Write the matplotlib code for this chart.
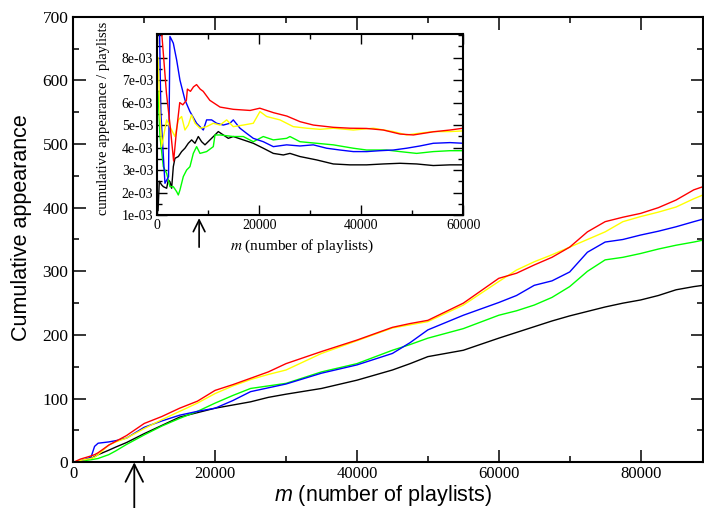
import matplotlib
matplotlib.use('Agg')
import matplotlib.pyplot as plt
from matplotlib.ticker import MultipleLocator, FuncFormatter, FixedLocator

# ---------------- data: main panel (cumulative appearance) ----------------
m_main = [0, 1000, 2500, 3000, 3500, 5000, 6000, 7500, 10000, 12500, 15000, 17500,
          20000, 22500, 25000, 27500, 30000, 35000, 40000, 45000, 47500, 50000,
          55000, 60000, 62500, 65000, 67500, 70000, 72500, 75000, 77500, 80000,
          82500, 85000, 87500, 88800]
red_main = [0, 5, 10, 12, 15, 27, 33, 42, 61, 72, 85, 96, 113, 122, 132, 142, 155,
            174, 192, 212, 218, 223, 250, 289, 297, 310, 322, 338, 362, 378, 385,
            391, 400, 412, 428, 433]
yellow_main = [0, 3, 6, 8, 12, 27, 32, 38, 53, 67, 80, 93, 108, 120, 130, 138, 145,
               171, 191, 211, 216, 221, 247, 284, 302, 315, 326, 338, 350, 362, 378,
               386, 393, 401, 414, 420]
blue_main = [0, 2, 8, 25, 30, 32, 34, 38, 55, 65, 74, 80, 85, 97, 111, 117, 123,
             140, 153, 171, 188, 208, 231, 251, 262, 278, 285, 299, 330, 346, 350,
             357, 363, 370, 378, 382]
green_main = [0, 2, 4, 5, 6, 12, 18, 28, 43, 57, 69, 80, 93, 105, 116, 120, 124,
              142, 155, 176, 185, 195, 210, 231, 238, 247, 259, 276, 300, 318, 322,
              328, 335, 341, 346, 349]
black_main = [0, 2, 6, 9, 12, 19, 24, 31, 45, 58, 71, 78, 85, 90, 95, 102, 107,
              116, 129, 145, 155, 166, 176, 195, 204, 213, 222, 230, 237, 244, 250,
              255, 262, 271, 276, 278]

# ---------------- data: inset (cumulative appearance / playlists, in 1e-3) ----------------
red_in_m = [150, 900, 1800, 2500, 3200, 3700, 4400, 5000, 5700, 5900, 6500, 7100, 7700,
            8400, 9000, 10300, 12300, 14900, 18200, 20100, 22800, 25400, 28000, 30600,
            34500, 37800, 41000, 44300, 47600, 50200, 54100, 57400, 60000]
red_in_v = [14, 9.0, 6.4, 5.0, 3.4, 4.6, 6.0, 5.9, 6.1, 6.6, 6.5, 6.7, 6.8, 6.6, 6.5,
            6.1, 5.8, 5.7, 5.65, 5.75, 5.55, 5.4, 5.15, 5.0, 4.9, 4.86, 4.85, 4.78,
            4.6, 4.56, 4.7, 4.78, 4.86]
yellow_in_m = [150, 520, 850, 1830, 2810, 3460, 4120, 4770, 5420, 6080, 6730, 7390, 8370,
               9670, 10980, 12290, 13600, 14900, 16860, 18820, 20130, 21440, 24050,
               26670, 29280, 31900, 34510, 38430, 42350, 46270, 48890, 51500, 54120,
               57390, 60000]
yellow_in_v = [8.0, 5.5, 4.04, 5.23, 4.78, 4.49, 5.23, 5.38, 4.78, 5.0, 5.45, 5.08, 4.86,
               4.93, 5.08, 5.0, 5.23, 4.93, 5.0, 5.08, 5.6, 5.38, 5.23, 4.93, 4.86, 4.81,
               4.86, 4.78, 4.86, 4.71, 4.56, 4.64, 4.71, 4.71, 4.74]
blue_in_m = [100, 700, 1500, 2200, 2480, 2800, 3140, 3790, 4440, 5420, 6400, 7710, 9020,
             9670, 10650, 11630, 12940, 14250, 14900, 16210, 17520, 18820, 20780, 22750,
             25360, 27970, 30590, 33200, 35820, 38430, 41050, 43660, 46270, 48890,
             51500, 54120, 57390, 60000]
blue_in_v = [14, 5.5, 2.41, 2.7, 8.94, 8.8, 8.64, 7.9, 7.0, 6.12, 5.6, 5.08, 4.78, 5.23,
             5.23, 5.08, 5.0, 5.08, 5.23, 4.86, 4.63, 4.41, 4.26, 4.04, 4.12, 4.07, 4.12,
             3.97, 3.89, 3.82, 3.82, 3.86, 3.89, 3.97, 4.07, 4.19, 4.22, 4.19]
green_in_m = [150, 520, 1180, 1830, 2480, 3140, 3790, 4120, 4440, 5100, 5750, 6400, 7060,
              7710, 8370, 9670, 10980, 11310, 12290, 14900, 16860, 18820, 20780, 22750,
              25360, 26010, 27970, 31240, 34510, 38430, 41050, 44970, 47580, 50850,
              54120, 57390, 60000]
green_in_v = [6.5, 4.5, 3.15, 2.85, 2.26, 2.26, 2.04, 1.89, 2.11, 2.71, 3.0, 3.15, 3.74,
              4.04, 3.74, 3.82, 4.04, 4.56, 4.56, 4.49, 4.49, 4.26, 4.49, 4.34, 4.41,
              4.49, 4.26, 4.19, 4.12, 3.97, 3.89, 3.89, 3.82, 3.74, 3.82, 3.86, 3.86]
black_in_m = [150, 390, 850, 1180, 1830, 2160, 2480, 2810, 3140, 3460, 4120, 4770, 5420,
              6080, 6730, 7390, 8040, 8690, 9350, 10330, 11310, 11960, 12940, 13920,
              14900, 16860, 18820, 20780, 22750, 24710, 26010, 27970, 31240, 34510,
              37780, 41050, 44310, 47580, 50850, 54120, 57390, 60000]
black_in_v = [1.2, 2.5, 2.34, 2.26, 2.19, 2.56, 2.48, 2.19, 3.15, 3.52, 3.6, 3.82, 3.97,
              4.19, 4.34, 4.19, 4.49, 4.26, 4.12, 4.34, 4.56, 4.71, 4.56, 4.41, 4.49,
              4.34, 4.19, 3.97, 3.74, 3.67, 3.74, 3.6, 3.45, 3.27, 3.23, 3.23, 3.27, 3.3,
              3.27, 3.2, 3.23, 3.23]
inset_ytick_values = [1, 2, 3, 4, 5, 6, 7, 8]

arrow_m = 8600
inset_arrow_m = 8200

# ---------------- figure ----------------
plt.rcParams['mathtext.fontset'] = 'custom'
plt.rcParams['mathtext.it'] = 'Liberation Sans:italic'
plt.rcParams['mathtext.rm'] = 'Liberation Sans'

W, H = 704, 508
fig = plt.figure(figsize=(W / 100, H / 100), dpi=100)

ax = fig.add_axes([73.3 / W, (H - 462.3) / H, (703 - 73.3) / W, (462.3 - 16.7) / H])
series = [(black_main, 'black'), (green_main, '#00ff00'), (blue_main, '#0000ff'),
          (yellow_main, '#ffff00'), (red_main, '#ff0000')]
for vals, col in series:
    ax.plot(m_main, vals, color=col, lw=1.0)

ax.set_xlim(0, 88800)
ax.set_ylim(0, 700)
ax.xaxis.set_major_locator(MultipleLocator(20000))
ax.xaxis.set_minor_locator(MultipleLocator(10000))
ax.yaxis.set_major_locator(MultipleLocator(100))
ax.yaxis.set_minor_locator(MultipleLocator(50))
ax.tick_params(which='both', direction='in', top=True, right=True, width=1.1,
               labelfontfamily='Liberation Serif', labelsize=12.5, pad=3.5)
ax.tick_params(axis='x', labelsize=12, pad=3)
ax.tick_params(which='major', length=9)
ax.tick_params(which='minor', length=4.5)
for sp in ax.spines.values():
    sp.set_linewidth(1.5)

ax.set_xlabel(r'$\mathit{m}$ (number of playlists)', fontsize=15.5,
              fontfamily='Liberation Sans', va='center')
ax.xaxis.set_label_coords(0.4923, -0.0735)
ax.set_ylabel('Cumulative appearance', fontsize=15.5, fontfamily='Liberation Sans',
              va='center')
ax.yaxis.set_label_coords(-0.083, 0.527)

ax.annotate('', xy=(arrow_m, 0), xytext=(arrow_m, -75), xycoords='data',
            textcoords='data', annotation_clip=False,
            arrowprops=dict(arrowstyle='->,head_length=0.9,head_width=0.45',
                            lw=1.3, color='black', shrinkA=0, shrinkB=0,
                            mutation_scale=14))

# ---------------- inset ----------------
ins = fig.add_axes([157.3 / W, (H - 215) / H, (463.3 - 157.3) / W, (215 - 34) / H])
ins.set_facecolor('white')
inset_series = [(black_in_m, black_in_v, 'black'), (green_in_m, green_in_v, '#00ff00'),
                (blue_in_m, blue_in_v, '#0000ff'), (yellow_in_m, yellow_in_v, '#ffff00'),
                (red_in_m, red_in_v, '#ff0000')]
for xs, vs, col in inset_series:
    ins.plot(xs, [v * 1e-3 for v in vs], color=col, lw=1.0)

ins.set_xlim(0, 60000)
ins.set_ylim(1e-3, 9.05e-3)
ins.xaxis.set_major_locator(MultipleLocator(20000))
ins.xaxis.set_minor_locator(MultipleLocator(10000))
ins.yaxis.set_major_locator(FixedLocator([v * 1e-3 for v in inset_ytick_values]))
ins.yaxis.set_minor_locator(MultipleLocator(5e-4))
ins.yaxis.set_major_formatter(FuncFormatter(lambda v, p: f'{v * 1000:.0f}e-03'))
ins.tick_params(which='both', direction='in', top=True, right=True, width=1.0,
                labelfontfamily='Liberation Serif', labelsize=10, pad=3)
ins.tick_params(which='major', length=7)
ins.tick_params(which='minor', length=3.5)
for sp in ins.spines.values():
    sp.set_linewidth(1.5)

ins.set_xlabel(r'$\mathit{m}$ (number of playlists)', fontsize=11,
               fontfamily='Liberation Serif', math_fontfamily='stix', va='center')
ins.xaxis.set_label_coords(0.472, -0.175)
ins.set_ylabel('cumulative appearance / playlists', fontsize=10.5,
               fontfamily='Liberation Serif', va='center')
ins.yaxis.set_label_coords(-0.176, 0.533)

ins.annotate('', xy=(inset_arrow_m, 0.86e-3), xytext=(inset_arrow_m, -0.43e-3),
             xycoords='data', textcoords='data', annotation_clip=False,
             arrowprops=dict(arrowstyle='->,head_length=0.7,head_width=0.35',
                             lw=1.2, color='black', shrinkA=0, shrinkB=0,
                             mutation_scale=12))

fig.savefig('out.png', dpi=100)
